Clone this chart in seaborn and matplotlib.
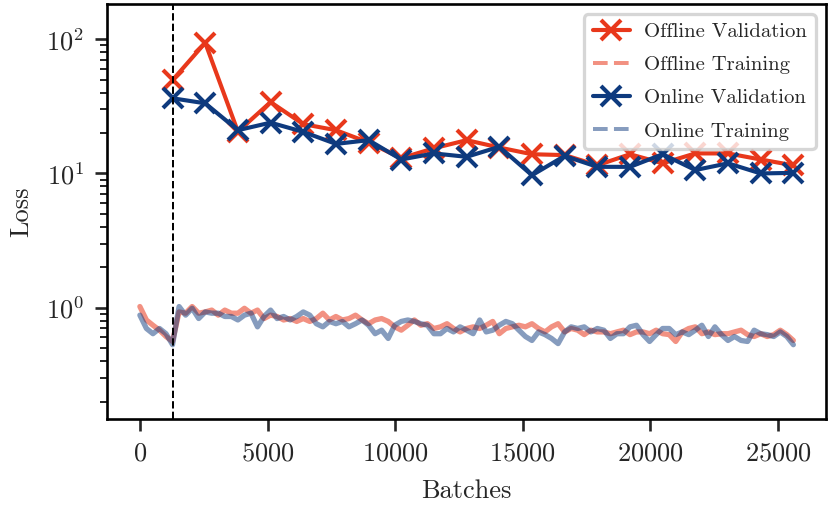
import numpy as np
import pandas as pd
import matplotlib
matplotlib.use('Agg')
import matplotlib.pyplot as plt
from matplotlib.lines import Line2D
import seaborn as sns

# validation every 1280 batches
val_batches = [1280 * k for k in range(1, 21)]
offline_val = [49.6, 94, 20.5, 34, 23.3, 21, 17, 13, 15.4, 17.7,
               15.6, 13.9, 13.7, 11.5, 13.9, 11.9, 14.1, 14.1, 12.7, 11.5]
online_val = [36.3, 33.3, 21, 23.9, 20.4, 16.6, 17.7, 12.7, 14.1, 13.3,
              15.8, 9.7, 13.5, 11.2, 11.2, 13.9, 10.6, 11.9, 10.0, 10.1]

# training loss, read every 256 batches
train_batches = list(range(0, 25601, 256))
offline_train = [1.02, 0.81, 0.74, 0.68, 0.61, 0.56, 0.93, 0.91, 1.02, 0.91,
                 0.93, 0.96, 0.88, 0.96, 0.91, 0.91, 0.99, 0.91, 0.96, 0.83,
                 0.88, 0.86, 0.81, 0.83, 0.79, 0.83, 0.79, 0.83, 0.91, 0.81,
                 0.86, 0.81, 0.83, 0.88, 0.81, 0.76, 0.81, 0.83, 0.79, 0.72,
                 0.68, 0.74, 0.81, 0.74, 0.76, 0.70, 0.72, 0.76, 0.70, 0.66,
                 0.70,
                 0.72, 0.70, 0.74, 0.79, 0.64, 0.70, 0.72, 0.74, 0.72, 0.76,
                 0.70, 0.66, 0.72, 0.76, 0.66, 0.70, 0.68, 0.63, 0.68, 0.66,
                 0.66, 0.64, 0.66, 0.68, 0.63, 0.66, 0.66, 0.64, 0.68, 0.64,
                 0.63, 0.56, 0.66, 0.70, 0.72, 0.64, 0.66, 0.63, 0.64, 0.64,
                 0.66, 0.68, 0.63, 0.61, 0.64, 0.61, 0.63, 0.68, 0.63, 0.57]
online_train = [0.88, 0.70, 0.64, 0.70, 0.64, 0.53, 1.02, 0.88, 0.99, 0.83,
                0.93, 0.91, 0.91, 0.86, 0.86, 0.81, 0.88, 0.91, 0.72, 0.86,
                0.96, 0.83, 0.86, 0.81, 0.86, 0.93, 0.88, 0.76, 0.72, 0.79,
                0.76, 0.79, 0.72, 0.76, 0.81, 0.74, 0.64, 0.68, 0.59, 0.74,
                0.79, 0.81, 0.79, 0.76, 0.74, 0.64, 0.64, 0.70, 0.66, 0.72,
                0.68,
                0.64, 0.81, 0.66, 0.68, 0.74, 0.79, 0.76, 0.68, 0.61, 0.57,
                0.66, 0.63, 0.59, 0.54, 0.66, 0.72, 0.70, 0.72, 0.66, 0.70,
                0.68, 0.59, 0.64, 0.64, 0.72, 0.74, 0.63, 0.56, 0.63, 0.70,
                0.70, 0.63, 0.66, 0.63, 0.68, 0.74, 0.61, 0.72, 0.63, 0.57,
                0.61, 0.57, 0.56, 0.68, 0.64, 0.63, 0.61, 0.66, 0.61, 0.53]

switch_batch = 1280

red = '#E8381B'
navy = '#0E3A7E'

sns.set_style('ticks')
plt.rcParams['font.family'] = 'cmr10'
plt.rcParams['mathtext.fontset'] = 'cm'
plt.rcParams['axes.formatter.use_mathtext'] = True
plt.rcParams['axes.unicode_minus'] = False

fig, ax = plt.subplots(figsize=(3.5, 2.14), dpi=237.43)
fig.subplots_adjust(left=0.129, right=0.994, top=0.992, bottom=0.175)

val_kw = dict(marker='x', markersize=6, markeredgewidth=1.25, linewidth=1.25)
sns.lineplot(x=val_batches, y=offline_val, color=red, markeredgecolor=red, ax=ax, **val_kw)
sns.lineplot(x=train_batches, y=offline_train, color=red, alpha=0.55,
             linewidth=1.6, ax=ax)
sns.lineplot(x=val_batches, y=online_val, color=navy, markeredgecolor=navy, ax=ax, **val_kw)
sns.lineplot(x=train_batches, y=online_train, color=navy, alpha=0.5,
             linewidth=1.6, ax=ax)
ax.axvline(switch_batch, color='black', linestyle='--', linewidth=0.6)

ax.set_yscale('log')
ax.set_ylim(0.148, 183)
ax.set_xlabel('Batches', fontsize=8)
ax.set_ylabel('Loss', fontsize=8)
ax.tick_params(labelsize=8)
for s in ax.spines.values():
    s.set_linewidth(0.8)
    s.set_color('black')

handles = [
    Line2D([], [], color=red, **val_kw),
    Line2D([], [], color=red, alpha=0.55, linestyle='--', linewidth=1.2),
    Line2D([], [], color=navy, **val_kw),
    Line2D([], [], color=navy, alpha=0.5, linestyle='--', linewidth=1.2),
]
labels = ['Offline Validation', 'Offline Training', 'Online Validation', 'Online Training']
ax.legend(handles, labels, loc='upper right', fontsize=6.3, handlelength=1.8,
          handletextpad=0.7, labelspacing=0.7)

fig.savefig('out.png', dpi=237.43)
